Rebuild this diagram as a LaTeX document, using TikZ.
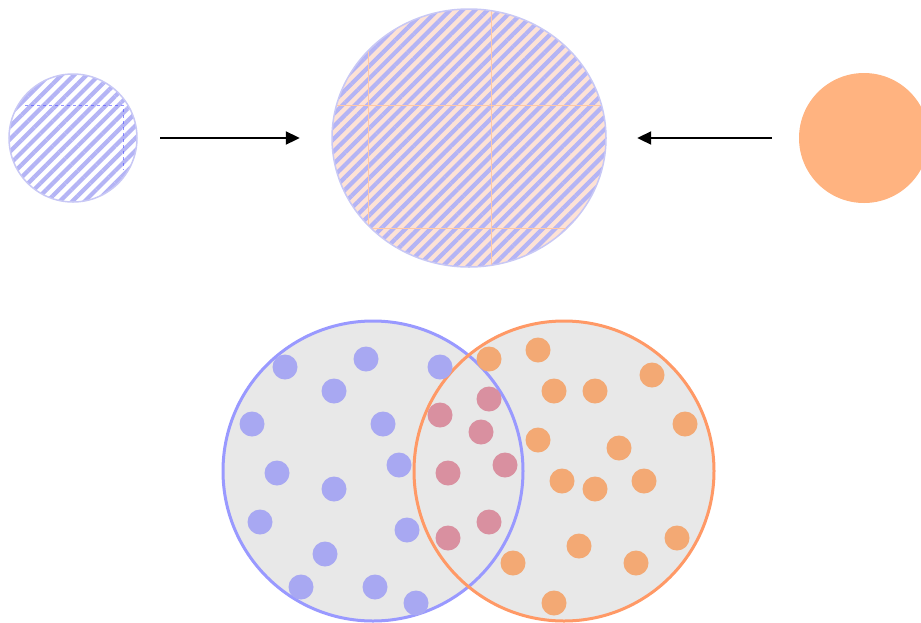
\documentclass[tikz,border=0pt]{standalone}
\usetikzlibrary{patterns.meta,arrows.meta,shapes.geometric}
\definecolor{hatchblue}{RGB}{180,180,245}
\definecolor{rimblue}{RGB}{200,200,245}
\definecolor{peach}{RGB}{253,226,214}
\definecolor{gridorange}{RGB}{255,200,165}
\definecolor{solidorange}{RGB}{255,179,128}
\definecolor{setblue}{RGB}{153,153,255}
\definecolor{setorange}{RGB}{255,153,102}
\definecolor{setfill}{RGB}{232,232,232}
\definecolor{dotblue}{RGB}{168,168,242}
\definecolor{dotorange}{RGB}{243,169,116}
\definecolor{dotpink}{RGB}{217,144,160}
\tikzset{
  hatched/.style={pattern={Lines[angle=45,distance=8.8pt,line width=4.2pt]},pattern color=hatchblue},
  flow/.style={line width=2pt,-{Triangle[length=14pt,width=13pt]}},
  setring/.style={circle,minimum size=300pt,inner sep=0pt,line width=3pt,fill=setfill},
}
\begin{document}
\begin{tikzpicture}[x=1pt,y=-1pt]
\useasboundingbox (0,0) rectangle (921,622);
% top row
\node[circle,minimum size=128pt,inner sep=0pt,draw=rimblue,line width=1.5pt,preaction={fill=white},hatched] (a) at (73,138) {};
\draw[blue!70,dashed,line width=0.6pt,opacity=0.6] (25,105) -- (123,105) -- (123,170);
\node[ellipse,minimum width=274pt,minimum height=258pt,inner sep=0pt,preaction={fill=peach},hatched] (b) at (469,138) {};
\begin{scope}
\clip (469,138) ellipse [x radius=137, y radius=129];
\draw[gridorange,line width=0.7pt] (368,48) -- (368,228) (491,0) -- (491,280)
  (320,105) -- (620,105) (368,228) -- (567,228);
\end{scope}
\draw[rimblue,line width=1.5pt] (469,138) ellipse [x radius=137, y radius=129];
\node[circle,minimum size=130pt,inner sep=0pt,fill=solidorange] (c) at (864,138) {};
\draw[flow,shorten <=21pt,shorten >=32pt] (a.east) -- (b.west);
\draw[flow,shorten <=27pt,shorten >=31pt] (c.west) -- (b.east);
% bottom sets
\node[setring] (l) at (373,471) {};
\node[setring] (r) at (564,471) {};
\draw[setblue,line width=3pt] (l.center) circle (150);
\draw[setorange,line width=3pt] (r.center) circle (150);
\foreach \p in {(285,367),(366,359),(440,367),(334,391),(252,424),(383,424),(399,465),(277,473),(334,489),(260,522),(407,530),(325,554),(301,587),(375,587),(416,603)}
  \fill[dotblue] \p circle (12.5);
\foreach \p in {(489,399),(440,415),(481,432),(505,465),(448,473),(489,522),(448,538)}
  \fill[dotpink] \p circle (12.5);
\foreach \p in {(489,359),(538,350),(554,391),(595,391),(652,375),(685,424),(538,440),(619,448),(562,481),(595,489),(644,481),(677,538),(579,546),(513,563),(636,563),(554,603)}
  \fill[dotorange] \p circle (12.5);
\end{tikzpicture}
\end{document}
